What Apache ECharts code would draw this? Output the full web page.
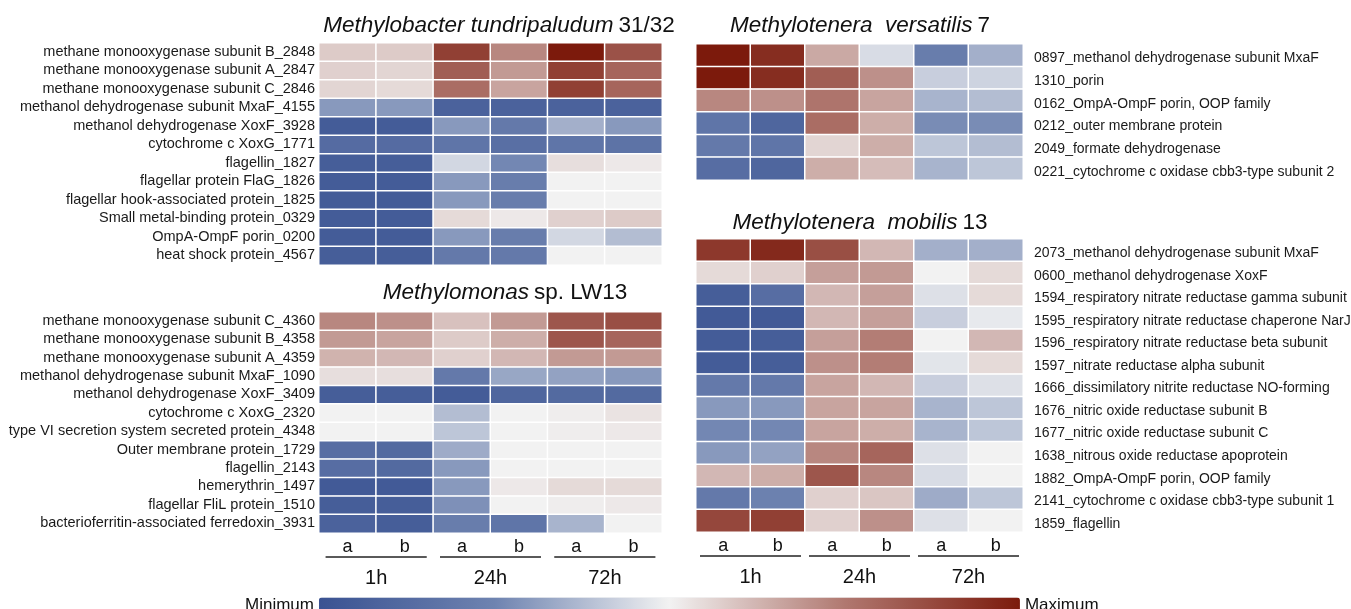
<!DOCTYPE html>
<html>
<head>
<meta charset="utf-8">
<script src="https://cdn.jsdelivr.net/npm/echarts@6/dist/echarts.min.js"></script>
<style>html,body{margin:0;padding:0;background:#fff}#c{width:1351px;height:609px}</style>
</head>
<body>
<div id="c"></div>
<script>
// ---- data ----
const sampleLabels = ['a','b','a','b','a','b'];
const timeLabels = ['1h','24h','72h'];

const rowsTundri = ['methane monooxygenase subunit B_2848','methane monooxygenase subunit A_2847','methane monooxygenase subunit C_2846','methanol dehydrogenase subunit MxaF_4155','methanol dehydrogenase XoxF_3928','cytochrome c XoxG_1771','flagellin_1827','flagellar protein FlaG_1826','flagellar hook-associated protein_1825','Small metal-binding protein_0329','OmpA-OmpF porin_0200','heat shock protein_4567'];
const valsTundri = [
 [58,58,90,72,100,85],
 [57,56,82,68,90,80],
 [56,55,78,66,90,80],
 [30,30,8,8,8,8],
 [5,5,30,20,35,30],
 [13,13,18,15,18,17],
 [6,6,44,26,54,52],
 [5,5,30,22,50,50],
 [5,5,30,22,50,50],
 [5,5,55,52,57,58],
 [5,5,30,22,44,38],
 [6,6,20,20,50,50]
];

const rowsLW13 = ['methane monooxygenase subunit C_4360','methane monooxygenase subunit B_4358','methane monooxygenase subunit A_4359','methanol dehydrogenase subunit MxaF_1090','methanol dehydrogenase XoxF_3409','cytochrome c XoxG_2320','type VI secretion system secreted protein_4348','Outer membrane protein_1729','flagellin_2143','hemerythrin_1497','flagellar FliL protein_1510','bacterioferritin-associated ferredoxin_3931'];
const valsLW13 = [
 [72,70,60,68,84,86],
 [68,66,58,64,84,80],
 [63,62,57,62,68,68],
 [54,54,20,33,32,30],
 [6,6,5,10,12,12],
 [50,50,38,50,51,53],
 [50,50,40,50,51,52],
 [14,12,34,50,50,50],
 [14,12,30,50,50,50],
 [4,4,30,52,55,55],
 [6,6,28,50,51,52],
 [8,6,22,18,36,50]
];

const rowsVers = ['0897_methanol dehydrogenase subunit MxaF','1310_porin','0162_OmpA-OmpF porin, OOP family','0212_outer membrane protein','2049_formate dehydrogenase','0221_cytochrome c oxidase cbb3-type subunit 2'];
const valsVers = [
 [100,95,65,45,22,35],
 [100,95,82,70,42,43],
 [72,70,76,66,36,38],
 [18,10,78,64,27,27],
 [20,18,56,64,40,38],
 [14,10,64,61,36,40]
];

const rowsMob = ['2073_methanol dehydrogenase subunit MxaF','0600_methanol dehydrogenase XoxF','1594_respiratory nitrate reductase gamma subunit','1595_respiratory nitrate reductase chaperone NarJ','1596_respiratory nitrate reductase beta subunit','1597_nitrate reductase alpha subunit','1666_dissimilatory nitrite reductase NO-forming','1676_nitric oxide reductase subunit B','1677_nitric oxide reductase subunit C','1638_nitrous oxide reductase apoprotein','1882_OmpA-OmpF porin, OOP family','2141_cytochrome c oxidase cbb3-type subunit 1','1859_flagellin'];
const valsMob = [
 [92,96,86,62,35,35],
 [55,57,67,68,50,55],
 [6,14,62,67,46,55],
 [4,4,62,67,42,48],
 [5,6,67,74,50,62],
 [5,6,70,74,47,55],
 [20,20,66,62,42,46],
 [30,30,66,66,36,40],
 [26,26,66,64,36,40],
 [30,32,72,80,46,50],
 [62,64,84,72,45,50],
 [20,24,57,59,34,40],
 [88,90,57,70,46,50]
];

// ---- chart ----
const FONT = 'Liberation Sans, Arial, sans-serif';
const panels = [
  {rows: rowsTundri, vals: valsTundri, grid:{left:319, top:43, width:343, height:222}, side:'left', bottom:false},
  {rows: rowsLW13,   vals: valsLW13,   grid:{left:319, top:312, width:343, height:221}, side:'left', bottom:true},
  {rows: rowsVers,   vals: valsVers,   grid:{left:696, top:44, width:327, height:136}, side:'right', bottom:false},
  {rows: rowsMob,    vals: valsMob,    grid:{left:696, top:239, width:327, height:293}, side:'right', bottom:true}
];
const titles = [
  {x:494, y:9, text:'{i|Methylobacter tundripaludum} {n|31/32}'},
  {x:500, y:276, text:'{i|Methylomonas} {n|sp. LW13}'},
  {x:855, y:9, text:'{i|Methylotenera  versatilis} {n|7}'},
  {x:855, y:206, text:'{i|Methylotenera  mobilis} {n|13}'}
];

const grids = [], xAxes = [], yAxes = [], series = [];
panels.forEach((p, k) => {
  grids.push(Object.assign({outerBoundsMode:'none', containLabel:false}, p.grid));
  xAxes.push({
    type:'category', gridIndex:k, data:sampleLabels, position:'bottom',
    axisLine:{show:false}, axisTick:{show:false}, splitLine:{show:false},
    axisLabel:{show:p.bottom, interval:0, fontFamily:FONT, fontSize:18, color:'#111', margin:5}
  });
  const right = p.side === 'right';
  yAxes.push({
    type:'category', gridIndex:k, data:p.rows, inverse:true, position:p.side,
    axisLine:{show:false}, axisTick:{show:false}, splitLine:{show:false},
    axisLabel:{interval:0, hideOverlap:false, color:'#1a1a1a',
      margin: right ? 11 : 4,
      formatter: v => '{l|' + v + '}',
      rich:{ l:{fontFamily:FONT, fontSize: right ? 14 : 14.5, color:'#1a1a1a',
                padding: right ? [6,0,0,0] : [0,0,1,0]} }
    }
  });
  const data = [];
  p.vals.forEach((row, r) => row.forEach((v, c) => data.push([c, r, v])));
  series.push({
    type:'heatmap', xAxisIndex:k, yAxisIndex:k, data:data,
    itemStyle:{borderColor:'#ffffff', borderWidth:1.5},
    emphasis:{disabled:true}
  });
});
// time axes below the bottom panels
[1,3].forEach(k => {
  xAxes.push({
    type:'category', gridIndex:k, data:timeLabels, position:'bottom',
    axisLine:{show:false}, axisTick:{show:false}, splitLine:{show:false},
    axisLabel:{
      margin:24, interval:0,
      formatter: v => '{hr|}\n{t|' + v + '}',
      rich:{
        hr:{width:101, height:0, borderColor:'#222', borderWidth:1},
        t:{fontFamily:FONT, fontSize:20, color:'#111', lineHeight:42, align:'center'}
      }
    }
  });
});

const option = {
  backgroundColor:'#ffffff',
  animation:false,
  title: titles.map(t => ({
    text:t.text, left:t.x, top:t.y, textAlign:'center',
    textStyle:{rich:{
      i:{fontFamily:FONT, fontSize:22.5, fontStyle:'italic', fontWeight:'normal', color:'#111'},
      n:{fontFamily:FONT, fontSize:22.5, fontWeight:'normal', color:'#111'}
    }}
  })),
  grid: grids,
  xAxis: xAxes,
  yAxis: yAxes,
  visualMap: {
    type:'continuous', show:true, min:0, max:100, seriesIndex:[0,1,2,3],
    orient:'horizontal', left:230, bottom:-20,
    itemWidth:16, itemHeight:701, calculable:false, realtime:false,
    text:['Maximum','Minimum'], textGap:5,
    textStyle:{fontFamily:FONT, fontSize:17, color:'#111'},
    inRange:{color:['#3a5292','#6e83b0','#f2f2f2','#b07870','#7c1a0c']}
  },
  series: series
};
const chart = echarts.init(document.getElementById('c'), null, {renderer:'canvas'});
chart.setOption(option);
</script>
</body>
</html>
